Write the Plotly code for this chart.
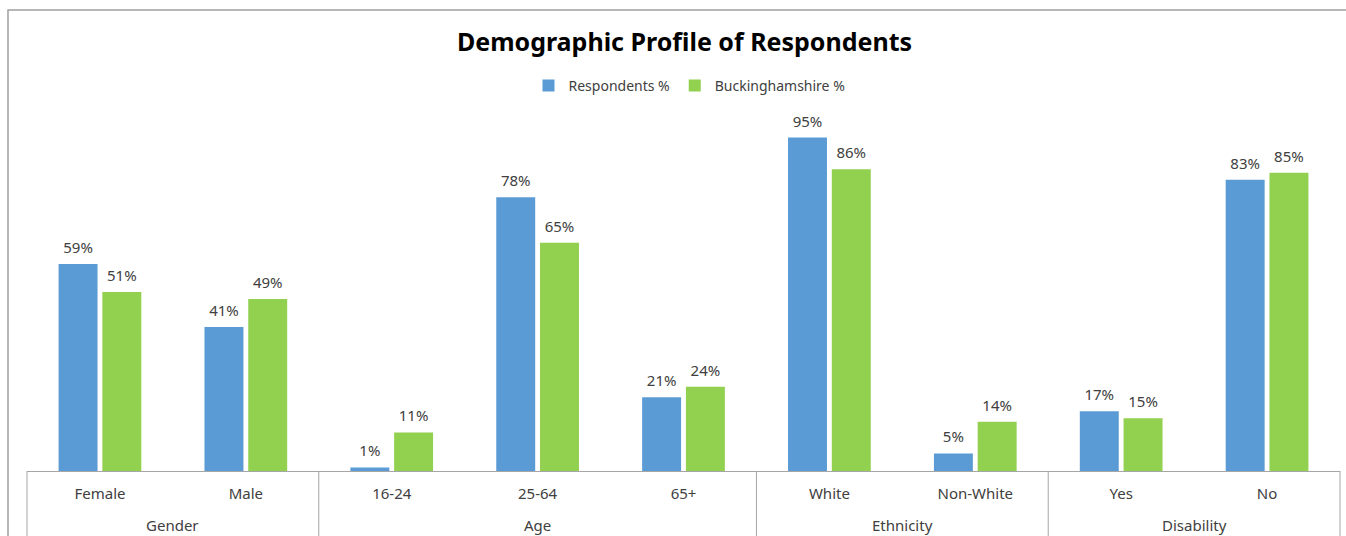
import plotly.graph_objects as go

groups = ["Gender", "Gender", "Age", "Age", "Age", "Ethnicity", "Ethnicity", "Disability", "Disability"]
categories = ["Female", "Male", "16-24", "25-64", "65+", "White", "Non-White", "Yes", "No"]
respondents = [59, 41, 1, 78, 21, 95, 5, 17, 83]
buckinghamshire = [51, 49, 11, 65, 24, 86, 14, 15, 85]

FONT = "Noto Sans"
TXT = "#404040"
GRID = "#A6A6A6"
W, H = 1346, 536
ML, MR, MT, MB = 27, 6, 120, 65
PH = H - MT - MB
PW = W - ML - MR

fig = go.Figure()
for name, vals, col in [("Respondents %", respondents, "#5B9BD5"),
                        ("Buckinghamshire %", buckinghamshire, "#92D050")]:
    fig.add_trace(go.Bar(
        x=categories, y=vals, name=name,
        marker=dict(color=col, line=dict(width=0)),
        hoverinfo="x+y",
    ))
for name, vals in [("Respondents %", respondents), ("Buckinghamshire %", buckinghamshire)]:
    fig.add_trace(go.Scatter(
        x=categories, y=vals, mode="markers+text", showlegend=False,
        text=[f"{v}%" for v in vals], textposition="top center",
        textfont=dict(family=FONT, size=15, color=TXT),
        marker=dict(size=10, opacity=0), cliponaxis=False, hoverinfo="skip",
    ))

# group boundaries and centers from the group list
bounds = [-0.5]
centers = []
start = 0
for i in range(1, len(groups) + 1):
    if i == len(groups) or groups[i] != groups[i - 1]:
        centers.append(((start + i - 1) / 2, groups[start]))
        bounds.append(i - 0.5)
        start = i

shapes = [dict(type="rect", xref="paper", yref="paper",
               x0=(8 - ML) / PW, x1=1.02, y0=-0.5, y1=(H - MB - 10) / PH,
               line=dict(color="#A0A0A0", width=1.5), fillcolor="rgba(0,0,0,0)", layer="below")]
for i, b in enumerate(bounds):
    if i == 0:
        shapes.append(dict(type="line", xref="paper", yref="paper", x0=0, x1=0,
                           y0=0, y1=-MB / PH - 0.05, line=dict(color=GRID, width=1)))
    elif i == len(bounds) - 1:
        shapes.append(dict(type="line", xref="paper", yref="paper", x0=1, x1=1,
                           y0=0, y1=-MB / PH - 0.05, line=dict(color=GRID, width=1)))
    else:
        shapes.append(dict(type="line", xref="x", yref="paper", x0=b, x1=b,
                           y0=0, y1=-MB / PH - 0.05, line=dict(color=GRID, width=1)))

annotations = [dict(x=c, y=-(525 - (H - MB)) / PH, xref="x", yref="paper", text=g,
                    showarrow=False, yanchor="middle", xanchor="center",
                    font=dict(family=FONT, size=15, color=TXT)) for c, g in centers]

fig.update_layout(
    width=W, height=H,
    margin=dict(l=ML, r=MR, t=MT, b=MB),
    paper_bgcolor="white", plot_bgcolor="white",
    barmode="group", bargap=0.4, bargroupgap=0.11,
    scattermode="group", scattergap=0.4,
    font=dict(family=FONT, size=14, color=TXT),
    title=dict(text="<b>Demographic Profile of Respondents</b>", x=684.5 / W, xanchor="center",
               y=1 - 42 / H, yanchor="middle",
               font=dict(family=FONT, size=25, color="black")),
    legend=dict(orientation="h", x=(689.5 - ML) / PW, xanchor="center", y=1.0 + 34 / PH, yanchor="middle",
                font=dict(family=FONT, size=14, color=TXT), itemwidth=30),
    xaxis=dict(type="category", range=[-0.5, len(categories) - 0.5],
               showline=True, linecolor=GRID, linewidth=1,
               tickfont=dict(family=FONT, size=15, color=TXT), ticks="",
               ticklabelstandoff=9, showgrid=False),
    yaxis=dict(range=[0, 100], visible=False, showgrid=False, zeroline=False),
    shapes=shapes,
    annotations=annotations,
    hovermode="closest",
)

fig.write_html("out.html")
